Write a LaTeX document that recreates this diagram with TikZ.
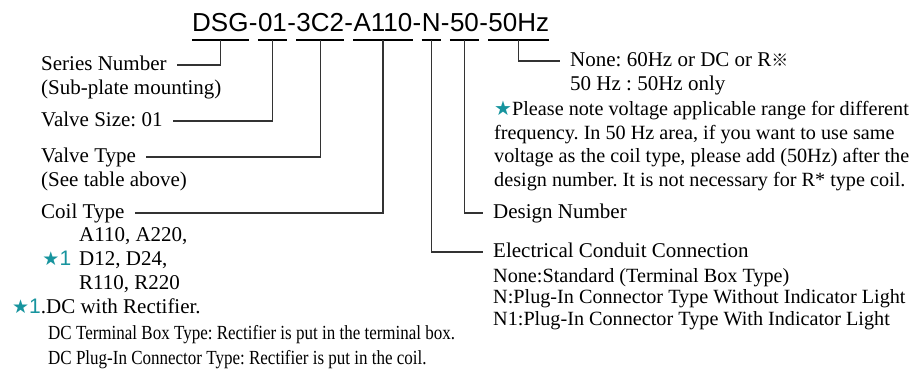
\documentclass[tikz,border=0pt]{standalone}
\usepackage{fontspec}
\setmainfont{Liberation Serif}
\newfontfamily\codefont{Liberation Sans}
\newfontfamily\symfont{DejaVu Sans}
\newfontfamily\cjkfont{Noto Sans CJK SC}
\newfontfamily\narrowfont{Liberation Serif}[FakeStretch=0.85]
\usetikzlibrary{positioning}
\definecolor{starteal}{HTML}{17949E}
\definecolor{leadgray}{HTML}{333333}
\newcommand{\tealstar}{{\color{starteal}\symfont\fontsize{20}{20}\selectfont ★}}
\newcommand{\starone}{{\color{starteal}\symfont\fontsize{19}{19}\selectfont ★\codefont\fontsize{21}{21}\selectfont 1}}
\frenchspacing

\begin{document}
\begin{tikzpicture}[
  x=1pt, y=1pt,
  font=\fontsize{21}{23.5}\selectfont,
  codepart/.style={
    font=\codefont\fontsize{26}{30}\selectfont,
    inner xsep=0pt,
    inner ysep=8pt,
    text height=19pt,
    text depth=0pt,
    anchor=west
  },
  partlabel/.style={
    inner xsep=10pt,
    inner ysep=0pt,
    text height=12pt,
    text depth=0pt,
    anchor=west
  },
  % multi-line texts sit on the baseline of their last line
  subtext/.style={
    inner sep=0pt,
    anchor=base west,
    align=left
  },
  leader/.style={
    draw=leadgray,
    line width=1.2pt
  },
  underbar/.style={
    draw=black,
    line width=2pt
  }
]
  \useasboundingbox (0,0) rectangle (912,-371);

  % -------------------------------------------------------------
  % MODEL CODE: DSG-01-3C2-A110-N-50-50Hz
  % -------------------------------------------------------------
  \node[codepart] (dsg) at (192,-22.5) {DSG};
  \node[codepart, right=0pt of dsg] (h1) {-};
  \node[codepart, right=0pt of h1] (sz) {01};
  \node[codepart, right=0pt of sz] (h2) {-};
  \node[codepart, right=0pt of h2] (vt) {3C2};
  \node[codepart, right=0pt of vt] (h3) {-};
  \node[codepart, right=0pt of h3] (coil) {A110};
  \node[codepart, right=0pt of coil] (h4) {-};
  \node[codepart, right=0pt of h4] (conn) {N};
  \node[codepart, right=0pt of conn] (h5) {-};
  \node[codepart, right=0pt of h5] (dn) {50};
  \node[codepart, right=0pt of dn] (h6) {-};
  \node[codepart, right=0pt of h6] (hz) {50Hz};

  \foreach \p in {dsg,sz,vt,coil,conn,dn,hz}
    \draw[underbar] (\p.south west) -- (\p.south east);

  % -------------------------------------------------------------
  % LEFT COLUMN
  % -------------------------------------------------------------
  \node[partlabel] (series) at (31,-65) {Series Number};
  \node[subtext] (seriesnote) at (41,-94.5) {(Sub-plate mounting)};

  \node[partlabel] (size) at (31,-121) {Valve Size: 01};

  \node[partlabel] (vtype) at (31,-157) {Valve Type};
  \node[subtext] (vtypenote) at (41,-186.5) {(See table above)};

  \node[partlabel] (coiltype) at (31,-213) {Coil Type};
  \node[subtext, font=\fontsize{21}{24}\selectfont] (coilvals) at (79,-289) {
    A110, A220,\\
    \llap{\starone\hspace{8pt}}D12, D24,\\
    R110, R220};

  % footnote for star 1
  \node[subtext] (starnote) at (12,-313) {\starone.DC with Rectifier.};
  \node[subtext, font=\narrowfont\fontsize{20}{25}\selectfont] (rectnote) at (48,-364) {
    DC Terminal Box Type: Rectifier is put in the terminal box.\\
    DC Plug-In Connector Type: Rectifier is put in the coil.};

  % -------------------------------------------------------------
  % RIGHT COLUMN
  % -------------------------------------------------------------
  \node[partlabel] (freq) at (560,-61) {None: 60Hz or DC or R{\cjkfont\fontsize{17}{17}\selectfont ※}};
  \node[subtext] (freqnote) at (570,-91) {50 Hz : 50Hz only};
  \node[subtext, font=\fontsize{20.2}{23.5}\selectfont] (voltnote) at (494,-186.5) {
    \tealstar Please note voltage applicable range for different\\
    frequency. In 50 Hz area, if you want to use same\\
    voltage as the coil type, please add (50Hz) after the\\
    design number. It is not necessary for R* type coil.};

  \node[partlabel] (design) at (483,-213) {Design Number};

  \node[partlabel] (elec) at (483,-252) {Electrical Conduit Connection};
  \node[subtext, font=\fontsize{20.2}{21.5}\selectfont] (elecvals) at (493,-325) {
    None:Standard (Terminal Box Type)\\
    N:Plug-In Connector Type Without Indicator Light\\
    N1:Plug-In Connector Type With Indicator Light};

  % -------------------------------------------------------------
  % LEADERS
  % -------------------------------------------------------------
  \draw[leader] (dsg.south) |- (series.east);
  \draw[leader] (sz.south) |- (size.east);
  \draw[leader] (vt.south) |- (vtype.east);
  \draw[leader] (coil.south) |- (coiltype.east);
  \draw[leader] (conn.south) |- (elec.west);
  \draw[leader] (dn.south) |- (design.west);
  \draw[leader] (hz.south) |- (freq.west);

\end{tikzpicture}
\end{document}
